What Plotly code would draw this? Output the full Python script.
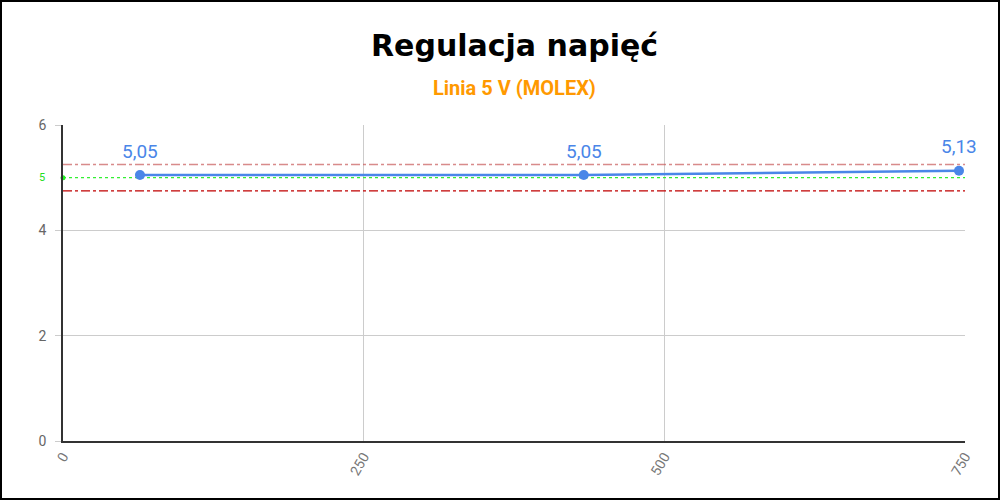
import plotly.graph_objects as go

# Data
load_w = [64, 433, 745]
voltage = [5.05, 5.05, 5.13]
labels = ["5,05", "5,05", "5,13"]
nominal = 5.0
upper_limit = 5.25
lower_limit = 4.75
x_ticks = [0, 250, 500, 750]
y_ticks = [0, 2, 4, 6]

fig = go.Figure()

# limit lines
fig.add_trace(go.Scatter(x=[0, 750], y=[upper_limit, upper_limit], mode="lines",
                         line=dict(color="rgba(200,90,90,0.7)", width=1.3, dash="dashdot"),
                         hoverinfo="skip", showlegend=False))
fig.add_trace(go.Scatter(x=[0, 750], y=[lower_limit, lower_limit], mode="lines",
                         line=dict(color="#c00000", width=1.3, dash="dashdot"),
                         hoverinfo="skip", showlegend=False))
fig.add_trace(go.Scatter(x=[0, 750], y=[nominal, nominal], mode="lines",
                         line=dict(color="#33f033", width=1.2, dash="dot"),
                         hoverinfo="skip", showlegend=False))
fig.add_trace(go.Scatter(x=[0], y=[nominal], mode="markers",
                         marker=dict(color="#22ee22", size=5), cliponaxis=False,
                         hoverinfo="skip", showlegend=False))

# main series
fig.add_trace(go.Scatter(x=load_w, y=voltage, mode="lines+markers",
                         line=dict(color="#4a86e8", width=2.5),
                         marker=dict(color="#4a86e8", size=10),
                         cliponaxis=False, showlegend=False))

annotations = [
    dict(text="<b>Regulacja napięć</b>", xref="paper", yref="paper",
         x=0.5, y=(441 - 45) / 316, xanchor="center", yanchor="middle",
         showarrow=False, font=dict(family="DejaVu Sans", size=30, color="#000000")),
    dict(text="<b>Linia 5 V (MOLEX)</b>", xref="paper", yref="paper",
         x=0.5, y=(441 - 88) / 316, xanchor="center", yanchor="middle",
         showarrow=False, font=dict(family="Roboto", size=20, color="#ff9900")),
    dict(text="5", xref="paper", yref="y", x=-0.018, y=nominal,
         xanchor="right", yanchor="middle", showarrow=False,
         font=dict(family="Roboto", size=11, color="#22dd22")),
]
for xv, yv, lab in zip(load_w, voltage, labels):
    annotations.append(dict(text=lab, x=xv, y=yv, xref="x", yref="y",
                            showarrow=False, yshift=24, xanchor="center", yanchor="middle",
                            font=dict(family="Roboto", size=19, color="#4a86e8")))

fig.update_layout(
    width=1000, height=500,
    margin=dict(l=63, r=35, t=125, b=59),
    paper_bgcolor="white", plot_bgcolor="white",
    font=dict(family="Roboto", color="#666666"),
    showlegend=False,
    xaxis=dict(range=[0, 750], tickvals=x_ticks, ticktext=[str(v) for v in x_ticks],
               tickangle=-60, showgrid=True, gridcolor="#cccccc", gridwidth=1,
               zeroline=False, showline=True, linecolor="#333333", linewidth=2,
               tickfont=dict(family="Roboto", size=14, color="#777777"),
               ticks="", fixedrange=True),
    yaxis=dict(range=[0, 6], tickvals=y_ticks, ticktext=[str(v) for v in y_ticks],
               showgrid=True, gridcolor="#cccccc", gridwidth=1,
               zeroline=False, showline=True, linecolor="#333333", linewidth=1.5,
               ticks="outside", ticklen=6, tickcolor="#cccccc",
               ticklabelstandoff=6,
               tickfont=dict(family="Roboto", size=14, color="#666666"),
               fixedrange=True),
    annotations=annotations,
    shapes=[
        dict(type="rect", xref="paper", yref="paper",
             x0=(1 - 63) / 902, x1=(999 - 63) / 902,
             y0=-(499 - 441) / 316, y1=(441 - 1) / 316,
             line=dict(color="black", width=2), layer="above"),
    ],
)

fig.write_html("out.html", config={"displayModeBar": False},
               post_script="document.body.style.margin='0';document.body.style.padding='0';")
